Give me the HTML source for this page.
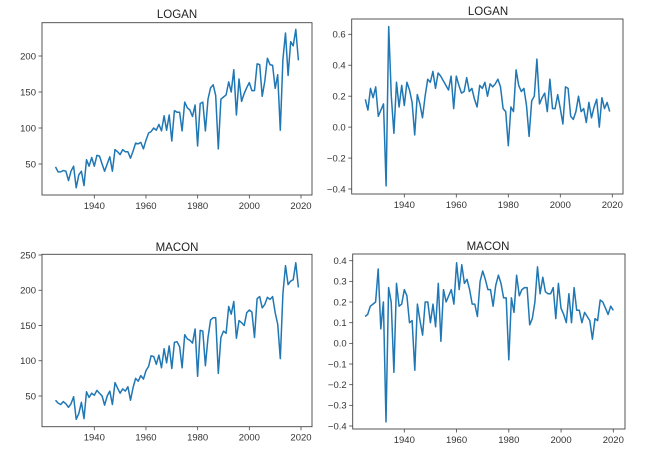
<!DOCTYPE html>
<html><head><meta charset="utf-8"><style>
html,body{margin:0;padding:0;background:#fff;}
svg{display:block;font-family:"Liberation Sans",sans-serif;}
</style></head><body>
<svg id="fig" width="647" height="455" viewBox="0 0 647 455" xmlns="http://www.w3.org/2000/svg"></svg>
<script>
const startYear = 1925;
const loganLevel = [46,39,39,41,40,27,40,47,17,35,40,20,56,47,59,47,62,61,50,40,50,60,40,70,67,63,70,67,67,58,68,79,78,80,71,83,93,95,100,97,105,96,117,97,118,82,124,122,122,96,136,128,125,116,132,75,134,136,96,140,156,160,145,71,140,143,146,164,150,181,118,168,137,148,156,163,152,152,189,188,144,165,197,188,187,155,174,97,195,232,173,220,214,237,194];
const loganRatio = [0.18,0.11,0.25,0.19,0.26,0.07,0.11,0.15,-0.38,0.65,0.20,-0.04,0.29,0.13,0.27,0.14,0.29,0.24,0.16,-0.05,0.21,0.15,0.06,0.20,0.31,0.29,0.36,0.25,0.35,0.33,0.30,0.27,0.24,0.33,0.12,0.33,0.27,0.22,0.23,0.32,0.23,0.25,0.18,0.13,0.27,0.25,0.29,0.20,0.28,0.26,0.28,0.31,0.26,0.12,0.10,-0.12,0.13,0.10,0.37,0.27,0.23,0.25,0.14,-0.06,0.17,0.20,0.44,0.15,0.19,0.22,0.10,0.31,0.12,0.12,0.21,0.12,0.02,0.26,0.25,0.07,0.05,0.10,0.20,0.10,0.12,0.03,0.16,0.06,0.13,0.18,0.00,0.19,0.12,0.16,0.10];
const maconLevel = [44,40,38,42,39,34,39,49,17,25,41,18,56,48,54,51,58,54,50,37,50,57,38,69,61,54,60,57,63,44,62,75,71,79,74,86,92,107,106,95,108,90,117,97,121,89,126,127,120,90,137,131,129,125,145,78,143,142,93,133,158,161,161,82,133,142,139,177,166,184,132,157,154,150,168,172,169,133,188,191,175,180,190,187,191,168,152,103,195,235,208,213,215,239,204];
const maconRatio = [0.13,0.14,0.18,0.19,0.20,0.36,0.07,0.20,-0.38,0.27,0.20,-0.14,0.29,0.18,0.19,0.26,0.23,0.10,0.11,-0.13,0.19,0.11,0.04,0.20,0.20,0.10,0.19,0.08,0.29,0.01,0.26,0.20,0.23,0.26,0.19,0.39,0.26,0.38,0.29,0.31,0.26,0.19,0.19,0.13,0.30,0.35,0.31,0.26,0.26,0.18,0.28,0.33,0.29,0.22,0.22,-0.08,0.22,0.15,0.33,0.23,0.26,0.27,0.27,0.09,0.12,0.20,0.37,0.24,0.32,0.25,0.24,0.24,0.27,0.12,0.29,0.17,0.14,0.10,0.24,0.10,0.27,0.16,0.16,0.10,0.15,0.13,0.11,0.02,0.12,0.11,0.21,0.20,0.17,0.14,0.18,0.16];
const xTicks = [1940,1960,1980,2000,2020];
const loganLevelTicks = [50,100,150,200];
const loganRatioTicks = [-0.4,-0.2,0.0,0.2,0.4,0.6];
const maconLevelTicks = [50,100,150,200,250];
const maconRatioTicks = [-0.4,-0.3,-0.2,-0.1,0.0,0.1,0.2,0.3,0.4];

const NS="http://www.w3.org/2000/svg";
const svg=document.getElementById('fig');
function mk(tag,attrs,parent){const e=document.createElementNS(NS,tag);for(const k in attrs)e.setAttribute(k,attrs[k]);(parent||svg).appendChild(e);return e;}

const panels=[
 {name:'logan-level',title:'LOGAN',data:loganLevel,ticks:loganLevelTicks,dec:0,box:[42,22.7,312,195],xa:[94.3,301],ya:[200,56,50,164],tx:177,ty:14},
 {name:'logan-ratio',title:'LOGAN',data:loganRatio,ticks:loganRatioTicks,dec:1,box:[351.7,19,623,194],xa:[404.3,612.3],ya:[0.6,34.3,-0.4,189],tx:488,ty:11},
 {name:'macon-level',title:'MACON',data:maconLevel,ticks:maconLevelTicks,dec:0,box:[42,254.3,312,426.7],xa:[94.3,301],ya:[250,255,50,396],tx:177,ty:247},
 {name:'macon-ratio',title:'MACON',data:maconRatio,ticks:maconRatioTicks,dec:1,box:[352.7,254,625,429],xa:[404.3,613.3],ya:[0.4,260.7,-0.4,426],tx:488,ty:246}
];
panels.forEach(p=>{
 const g=mk('g',{});
 
 
 const X=y=>p.xa[0]+(y-1940)*(p.xa[1]-p.xa[0])/80;
 const Y=v=>p.ya[1]+(v-p.ya[0])*(p.ya[3]-p.ya[1])/(p.ya[2]-p.ya[0]);
 const [l,t,r,b]=p.box;
 const title=mk('text',{x:p.tx,y:p.ty+4,'text-anchor':'middle','font-size':'11.5',fill:'#222'},g);
 title.textContent=p.title;
 
 
 const pts=p.data.map((v,i)=>X(startYear+i).toFixed(1)+','+Y(v).toFixed(1)).join(' ');
 const line=mk('polyline',{points:pts,fill:'none',stroke:'#1f77b4','stroke-width':1.5,'stroke-linejoin':'round'},g);
 
 
 const frame=mk('rect',{x:l,y:t,width:r-l,height:b-t,fill:'none',stroke:'#444','stroke-width':0.9},g);
 
 
 xTicks.forEach(yr=>{
  const x=X(yr);
  mk('line',{x1:x,x2:x,y1:b,y2:b+3.5,stroke:'#444','stroke-width':0.8},g);
  const tl=mk('text',{x:x,y:b+14,'text-anchor':'middle','font-size':'9.5',fill:'#333'},g);
  tl.textContent=yr;
  
  
 });
 p.ticks.forEach(v=>{
  const y=Y(v);
  mk('line',{x1:l-3.5,x2:l,y1:y,y2:y,stroke:'#444','stroke-width':0.8},g);
  const tl=mk('text',{x:l-6,y:y+3.3,'text-anchor':'end','font-size':'9.5',fill:'#333'},g);
  tl.textContent=v.toFixed(p.dec).replace('-','\u2212');
  
  
 });
});
</script>
</body></html>
